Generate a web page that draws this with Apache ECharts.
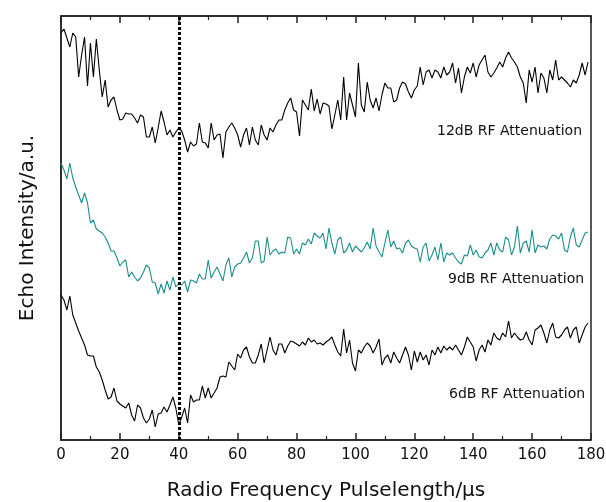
<!DOCTYPE html>
<html><head><meta charset="utf-8">
<script src="https://cdn.jsdelivr.net/npm/echarts@6/dist/echarts.min.js"></script>
<style>html,body{margin:0;padding:0;background:#fff}#c{width:606px;height:502px}</style>
</head><body><div id="c"></div>
<script>
// Echo intensity (a.u.) sampled every 1 µs from 0 to 179 µs
const db12 = [407,411,402,393,407,403,363,385,403,354,397,363,401,370,343,360,333,340,343,330,
320,321,327,326,326,322,317,325,323,303,303,313,297,312,329,318,305,310,303,308,
312,309,300,288,298,294,296,317,298,297,292,317,300,305,306,282,308,313,317,312,
305,293,305,312,295,313,300,295,315,305,300,312,308,315,320,320,330,337,342,330,
328,304,340,335,330,351,329,341,326,337,336,334,311,325,340,320,363,320,347,335,
323,377,335,328,358,340,332,342,329,345,357,352,352,338,340,352,358,356,348,342,
350,354,373,355,368,370,362,370,368,362,373,365,368,377,357,372,347,363,373,367,
377,363,375,380,385,368,363,367,372,378,373,382,388,382,378,373,363,357,337,370,
358,373,347,367,362,347,370,360,380,360,363,360,357,353,360,357,365,377,365,378];
const db9 = [277,270,261,277,262,253,245,237,247,237,217,220,211,209,207,203,197,189,189,182,
174,178,180,163,168,163,159,162,168,175,172,158,157,146,156,147,159,150,163,153,
157,155,159,148,160,159,157,166,161,161,180,162,168,173,166,159,175,182,163,173,
176,177,182,188,177,182,199,199,177,179,203,185,189,191,186,188,187,203,202,186,
191,186,197,195,201,196,207,204,202,207,191,212,197,186,200,203,187,190,197,188,
194,191,188,192,198,191,212,194,188,183,197,210,193,199,191,192,187,197,200,194,
192,191,178,193,197,179,185,193,180,197,178,187,185,187,182,178,176,185,184,195,
185,190,183,182,187,190,197,185,197,190,188,203,200,185,193,214,187,197,199,188,
210,187,195,193,194,191,201,205,204,201,207,190,188,203,212,195,193,200,207,208];
const db6 = [145,140,130,144,125,117,109,102,95,85,84,84,73,68,60,50,41,43,52,39,
36,34,32,37,25,19,35,32,22,17,21,30,13,26,27,33,28,35,43,32,
15,23,32,17,45,38,40,40,54,42,52,42,47,52,63,64,63,78,74,70,
86,82,90,93,83,77,77,85,96,77,90,103,90,85,96,96,87,94,99,98,
96,94,98,95,102,98,100,96,97,95,98,100,103,95,88,84,111,87,100,77,
69,90,87,93,97,94,87,93,101,75,82,85,77,88,82,77,85,93,85,70,
89,78,88,80,85,75,90,85,93,87,94,90,93,90,95,90,85,93,103,98,
93,79,90,95,88,100,95,107,102,100,107,103,119,102,107,103,100,101,108,100,
95,110,112,115,107,97,110,117,103,102,105,110,113,102,110,113,97,105,113,117];
const seriesNames = ['12dB RF Attenuation','9dB RF Attenuation','6dB RF Attenuation'];
const xTicks = [0,20,40,60,80,100,120,140,160,180];
const markerX = 40;

const toPairs = a => a.map((v,i)=>[i,v]);
const FONT = 'DejaVu Sans';
const chart = echarts.init(document.getElementById('c'), null, {renderer:'canvas'});
const axisCol = '#222';
chart.setOption({
  animation:false,
  backgroundColor:'#fff',
  grid:{left:61,right:15,top:16,bottom:62,show:true,borderColor:axisCol,borderWidth:1.5,
        containLabel:false,outerBoundsMode:'none'},
  xAxis:[{
    type:'value',min:xTicks[0],max:xTicks[xTicks.length-1],interval:20,position:'bottom',
    axisLine:{show:true,onZero:false,lineStyle:{color:axisCol,width:1.5}},
    axisTick:{show:true,inside:true,length:7,lineStyle:{color:axisCol,width:1.5}},
    minorTick:{show:true,splitNumber:2,length:4,lineStyle:{color:axisCol,width:1.2}},
    splitLine:{show:false},
    axisLabel:{color:'#111',fontFamily:FONT,fontSize:15,margin:8},
    name:'Radio Frequency Pulselength/µs',nameLocation:'middle',nameGap:41,
    nameTextStyle:{color:'#111',fontFamily:FONT,fontSize:20}
  },{
    type:'value',min:0,max:180,interval:20,position:'top',
    axisLine:{show:true,onZero:false,lineStyle:{color:axisCol,width:1.5}},
    axisTick:{show:true,inside:true,length:7,lineStyle:{color:axisCol,width:1.5}},
    minorTick:{show:true,splitNumber:2,length:4,lineStyle:{color:axisCol,width:1.2}},
    splitLine:{show:false},axisLabel:{show:false}
  }],
  yAxis:[{
    type:'value',min:0,max:424,
    axisLine:{show:true,onZero:false,lineStyle:{color:axisCol,width:1.5}},
    axisTick:{show:false},axisLabel:{show:false},splitLine:{show:false},
    name:'Echo Intensity/a.u.',nameLocation:'middle',nameGap:23,
    nameTextStyle:{color:'#111',fontFamily:FONT,fontSize:20}
  }],
  series:[
    {name:seriesNames[0],type:'line',data:toPairs(db12),symbol:'none',lineStyle:{color:'#000',width:1.1},
     markLine:{silent:true,symbol:'none',label:{show:false},
       lineStyle:{color:'#000',width:3,type:[3,2]},data:[{xAxis:markerX}]}},
    {name:seriesNames[1],type:'line',data:toPairs(db9),symbol:'none',lineStyle:{color:'#1a8c8c',width:1.1}},
    {name:seriesNames[2],type:'line',data:toPairs(db6),symbol:'none',lineStyle:{color:'#000',width:1.1}}
  ],
  graphic:[
    {type:'text',left:437,top:124,style:{text:seriesNames[0],font:'14px "DejaVu Sans"',fill:'#111'}},
    {type:'text',left:448,top:272,style:{text:seriesNames[1],font:'14px "DejaVu Sans"',fill:'#111'}},
    {type:'text',left:449,top:387,style:{text:seriesNames[2],font:'14px "DejaVu Sans"',fill:'#111'}}
  ]
});
</script></body></html>
